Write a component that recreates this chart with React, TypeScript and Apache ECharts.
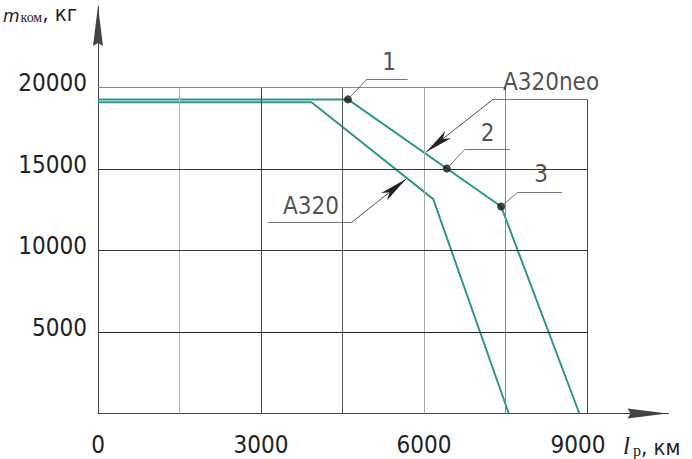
import React, { useEffect, useRef } from "react";
import * as echarts from "echarts";

// ---- data ----
const xLabelValues = [0, 3000, 6000, 9000];
const yLabelValues = [5000, 10000, 15000, 20000];
const xGridValues = [1500, 3000, 4500, 6000, 7500, 9000];
const xGridTops = [20000, 20000, 20000, 20000, 20000, 19270];
const yGridValues = [5000, 10000, 15000, 20000];
const yGridEnds = [9000, 9000, 9000, 7500];

const a320 = [
  [0, 19100],
  [3930, 19100],
  [6170, 13150],
  [7560, 0],
];
const a320neo = [
  [0, 19270],
  [4600, 19270],
  [7420, 12700],
  [8860, 0],
];

const pointNames = ["1", "2", "3"];
const pointValues = [
  [4600, 19270],
  [6420, 15030],
  [7420, 12700],
];
// shelf under each number: [xStart, xEnd, y]
const pointShelves = [
  [4950, 5700, 20520],
  [6760, 7580, 16230],
  [7730, 8540, 13590],
];
const pointLabelPos = [
  [5356, 21560],
  [7169, 17180],
  [8154, 14690],
];

const seriesNames = ["A320neo", "A320"];
const nameShelves = [
  [7270, 9000, 19270],
  [3130, 4675, 11740],
];
const nameShelfJoin = [
  [7270, 19270],
  [4675, 11740],
];
const nameArrowTips = [
  [6040, 16050],
  [5670, 14380],
];
const nameLabelPos = [
  [8338, 20368],
  [3920, 12730],
];

// ---- styling ----
const GOST = "'DejaVu Sans Condensed', 'Liberation Sans', sans-serif";
const FS = 24;
const TEAL = "#2e968d";
const vGridColors = ["#b0b0b0", "#444", "#555", "#aaa", "#888", "#444"];
const hGridColors = ["#222", "#333", "#333", "#888"];

export default function App() {
  const ref = useRef<HTMLDivElement>(null);

  useEffect(() => {
    if (!ref.current) return;
    const chart = echarts.init(ref.current, undefined, { renderer: "svg" });

    const gridSegments: any[] = [];
    xGridValues.forEach((x, i) => {
      gridSegments.push([
        { coord: [x, 0], lineStyle: { color: vGridColors[i], width: 1, type: "solid" } },
        { coord: [x, xGridTops[i]] },
      ]);
    });
    yGridValues.forEach((y, i) => {
      gridSegments.push([
        { coord: [0, y], lineStyle: { color: hGridColors[i], width: 1, type: "solid" } },
        { coord: [yGridEnds[i], y] },
      ]);
    });

    const leaderStyle = { color: "#555", width: 0.8, type: "solid" };
    const leaderSegments: any[] = [];
    pointShelves.forEach((s, i) => {
      leaderSegments.push([
        { coord: [s[0], s[2]], lineStyle: leaderStyle },
        { coord: [s[1], s[2]] },
      ]);
      leaderSegments.push([
        { coord: [s[0], s[2]], lineStyle: leaderStyle },
        { coord: pointValues[i] },
      ]);
    });
    nameShelves.forEach((s, i) => {
      leaderSegments.push([
        { coord: [s[0], s[2]], lineStyle: leaderStyle },
        { coord: [s[1], s[2]] },
      ]);
      leaderSegments.push([
        { coord: nameShelfJoin[i], lineStyle: { color: "#222", width: 0.8, type: "solid" } },
        { coord: nameArrowTips[i], symbol: "arrow", symbolSize: [7, 28] },
      ]);
    });

    const labelData = [
      ...pointNames.map((n, i) => ({ name: n, value: pointLabelPos[i] })),
      ...seriesNames.map((n, i) => ({ name: n, value: nameLabelPos[i] })),
    ];

    const arrowPath = "path://M5,0 L10,40 L5,37 L0,40 Z";
    const lastX = xLabelValues[xLabelValues.length - 1];

    chart.setOption({
      animation: false,
      backgroundColor: "#ffffff",
      grid: { left: 98, right: 23.5, top: 6, bottom: 45.5, containLabel: false },
      xAxis: {
        type: "value",
        min: 0,
        max: 10500,
        interval: 3000,
        splitLine: { show: false },
        axisTick: { show: false },
        axisLine: {
          show: true,
          lineStyle: { color: "#444", width: 1 },
          symbol: ["none", arrowPath],
          symbolSize: [10, 42],
          symbolOffset: [0, -21],
        },
        axisLabel: {
          fontFamily: GOST,
          fontSize: FS,
          color: "#222",
          margin: 19,
          formatter: (v: number) =>
            xLabelValues.includes(v) ? (v === lastX ? "{e|" + v + "}" : String(v)) : "",
          rich: {
            e: { fontFamily: GOST, fontSize: FS, color: "#222", padding: [0, 18, 0, 0] },
          },
        },
      },
      yAxis: {
        type: "value",
        min: 0,
        max: 25000,
        interval: 5000,
        splitLine: { show: false },
        axisTick: { show: false },
        axisLine: {
          show: true,
          lineStyle: { color: "#444", width: 1 },
          symbol: ["none", arrowPath],
          symbolSize: [10, 40],
          symbolOffset: [0, -20],
        },
        axisLabel: {
          fontFamily: GOST,
          fontSize: FS,
          color: "#222",
          margin: 11,
          verticalAlign: "bottom",
          lineHeight: 9,
          formatter: (v: number) => (yLabelValues.includes(v) ? String(v) : ""),
        },
      },
      graphic: [
        {
          type: "text",
          x: 3,
          y: 24,
          style: {
            text: "{m|m}{s|ком}{n|, кг}",
            align: "left",
            verticalAlign: "bottom",
            rich: {
              m: { fontFamily: "DejaVu Sans", fontStyle: "italic", fontSize: 17, fill: "#222", verticalAlign: "bottom" },
              s: { fontFamily: "Liberation Serif", fontSize: 14, fill: "#222", verticalAlign: "bottom", padding: [0, 0, 0, 1] },
              n: { fontFamily: GOST, fontSize: 22, fill: "#222", verticalAlign: "bottom" },
            },
          },
        },
        {
          type: "text",
          x: 623,
          y: 458,
          style: {
            text: "{l|l}{s|р}{n|, км}",
            align: "left",
            verticalAlign: "bottom",
            rich: {
              l: { fontFamily: "Liberation Serif", fontStyle: "italic", fontSize: 25, fill: "#222", verticalAlign: "bottom" },
              s: { fontFamily: "Liberation Serif", fontSize: 16, fill: "#222", verticalAlign: "bottom", padding: [0, 0, 0, 3] },
              n: { fontFamily: GOST, fontSize: 22, fill: "#222", verticalAlign: "bottom" },
            },
          },
        },
      ],
      series: [
        {
          type: "line",
          data: [],
          z: 1,
          silent: true,
          markLine: {
            silent: true,
            animation: false,
            symbol: ["none", "none"],
            label: { show: false },
            emphasis: { disabled: true },
            data: gridSegments,
          },
        },
        {
          type: "line",
          data: [],
          z: 2,
          silent: true,
          markLine: {
            silent: true,
            animation: false,
            symbol: ["none", "none"],
            label: { show: false },
            emphasis: { disabled: true },
            data: leaderSegments,
          },
        },
        {
          name: "A320",
          type: "line",
          data: a320,
          z: 3,
          symbol: "none",
          lineStyle: { color: TEAL, width: 2 },
        },
        {
          name: "A320neo",
          type: "line",
          data: a320neo,
          z: 3,
          symbol: "none",
          lineStyle: { color: TEAL, width: 2 },
        },
        {
          type: "scatter",
          data: pointValues,
          z: 4,
          symbol: "circle",
          symbolSize: 8,
          itemStyle: { color: "#111" },
        },
        {
          type: "scatter",
          data: labelData,
          z: 5,
          symbolSize: 1,
          itemStyle: { color: "rgba(0,0,0,0)" },
          label: {
            show: true,
            position: "inside",
            formatter: "{b}",
            fontFamily: GOST,
            fontSize: FS,
            color: "#222",
          },
        },
      ],
    });

    return () => chart.dispose();
  }, []);

  return (
    <div
      ref={ref}
      style={{ position: "fixed", left: 0, top: 0, width: 692, height: 459, background: "#fff" }}
    />
  );
}
